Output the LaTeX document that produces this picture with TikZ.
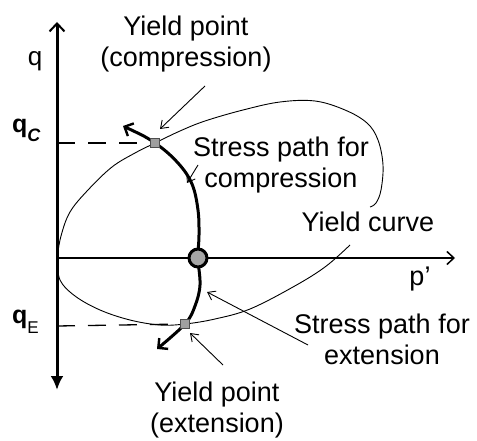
\documentclass[tikz,border=0pt]{standalone}
\usepackage{fontspec}
\setmainfont{Liberation Sans}
\usetikzlibrary{arrows.meta}
\begin{document}
\begin{tikzpicture}[x=1pt,y=-1pt,
  lbl/.style={font=\fontsize{27}{31}\selectfont, align=center, inner sep=0pt},
  axisq/.style={line width=3pt},
  axisp/.style={line width=1.5pt},
  yieldline/.style={line width=0.9pt},
  dashline/.style={line width=1.3pt, dash pattern=on 18pt off 13pt},
  spath/.style={line width=3pt},
  leader/.style={line width=0.9pt, -{Straight Barb[length=7pt,width=10pt,line width=0.9pt]}},
  ysq/.style={draw=black!70, fill=gray!75, line width=0.8pt, minimum size=9pt, inner sep=0pt},
  startpt/.style={circle, draw=black, fill=gray!70, line width=3pt, minimum size=18pt, inner sep=0pt}
]
\useasboundingbox (0,0) rectangle (477,441);
% key points
\coordinate (O) at (57,258);
\coordinate (qtop) at (57,22);
\coordinate (qbot) at (57,390);
\coordinate (pend) at (455,258);
\coordinate (qC) at (57,143);
\coordinate (qE) at (57,326);
\coordinate (tipC) at (123,126);
\coordinate (tipE) at (157,349);
% yield curve
\draw[yieldline] plot[smooth, tension=0.6] coordinates {(O) (61,236) (70,212) (88,190) (112,167) (135,153) (155,143) (180,131) (205,121) (243,110) (280,102) (315,101) (345,110) (367,123) (378,140) (383,165) (381,190) (376,203) (370,207)};
\draw[yieldline] plot[smooth, tension=0.6] coordinates {(O) (60,280) (75,296) (100,310) (130,320) (160,325) (185,324) (215,319) (250,309) (293,287) (325,267) (350,245)};
% dashed lines
\node[ysq] (YC) at (155,143) {};
\node[ysq] (YE) at (185,324) {};
\draw[dashline] (qC) -- (YC.center);
\draw[dashline] (qE) -- (YE.center);
% axes
\draw[axisq, -{Straight Barb[length=8pt,width=15pt,line width=2pt]}] (O) -- (qtop);
\draw[axisq, -{Latex[length=14pt,width=13pt]}] (O) -- (qbot);
\draw[axisp, -{Straight Barb[length=7pt,width=13pt,line width=1.5pt]}] (O) -- (pend);
% stress path
\draw[spath, {Straight Barb[length=7pt,width=14pt,line width=2.4pt]}-{Straight Barb[length=7pt,width=14pt,line width=2.4pt]}]
  plot[smooth, tension=0.6] coordinates {(tipC) (155,143) (178,163) (192,184) (198,210) (199,235) (198,258) (200,285) (195,306) (185,324) (tipE)};
\node[ysq] at (YC) {};
\node[ysq] at (YE) {};
\node[startpt] (S) at (198,258) {};
% labels
\node[lbl] (lYC) at (186,44) {Yield point\\(compression)};
\node[lbl] (lSC) at (281,165) {Stress path for\\compression};
\node[lbl, anchor=base] (lYcurve) at (368,232) {Yield curve};
\node[lbl, anchor=base] (lp) at (420,285) {p’};
\node[lbl] (lSE) at (382,339) {Stress path for\\extension};
\node[lbl] (lYE) at (217,410) {Yield point\\(extension)};
\node[font=\fontsize{26}{26}\selectfont, anchor=base, inner sep=0pt] (lq) at (35,66) {q};
\node[font=\fontsize{25}{25}\selectfont, anchor=base west, inner sep=0pt] (lqC) at (12,133) {\textbf{q}\raisebox{-9pt}{\fontsize{18}{18}\selectfont\bfseries\itshape C}};
\node[font=\fontsize{25}{25}\selectfont, anchor=base west, inner sep=0pt] (lqE) at (12,323) {\textbf{q}\raisebox{-10pt}{\fontsize{17}{17}\selectfont E}};
% leaders
\coordinate (a1) at (205,86);
\coordinate (a2) at (198,165);
\coordinate (a3) at (308,345);
\coordinate (a4) at (223,365);
\draw[leader] (a1) -- (160,129);
\draw[leader] (a2) -- (187,183);
\draw[leader] (a3) -- (207,292);
\draw[leader] (a4) -- (190,333);
\end{tikzpicture}
\end{document}
